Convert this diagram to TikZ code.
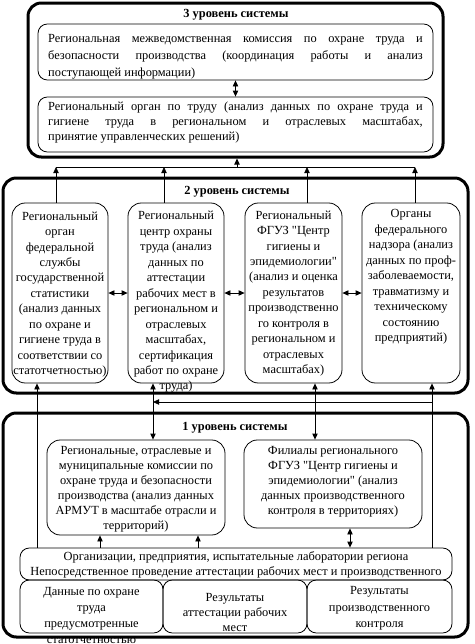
\documentclass[tikz,border=0pt]{standalone}
\usepackage{fontspec}
\setmainfont{Liberation Serif}[Ligatures=TeXOff]
\usetikzlibrary{arrows.meta}
\begin{document}
\begin{tikzpicture}[x=0.75pt,y=-0.75pt,
  outer/.style={draw, line width=2.25pt, rounded corners=10pt, inner sep=0pt},
  ibox/.style={draw, line width=0.6pt, rounded corners=8pt, inner sep=0pt},
  txt/.style={inner sep=0pt, align=center, font=\fontsize{9.3}{11.6}\selectfont},
  ttl/.style={inner sep=0pt, font=\bfseries\fontsize{9.3}{11}\selectfont},
  conn/.style={line width=0.6pt},
  tip/.style={conn, -{Triangle[length=4.5pt,width=4pt]}},
  dtip/.style={conn, {Triangle[length=4.5pt,width=4pt]}-{Triangle[length=4.5pt,width=4pt]}}]
\useasboundingbox (0,0) rectangle (475,644);
% ---------- level 3
\node[outer, minimum width=311.25pt, minimum height=115.5pt] (L3) at (235.5,80) {};
\node[ibox, rounded corners=7pt, minimum width=296.25pt, minimum height=42pt] (P1) at (235.5,52) {};
\node[ibox, rounded corners=7pt, minimum width=296.25pt, minimum height=41.25pt] (P2) at (235.5,124.5) {};
\node[ttl] (T3) at (236,15) {3 уровень системы};
\node[txt, text width=281pt, align=justify, font=\fontsize{9.3}{12.75}\selectfont] (P1t) at (235.5,57)
 {Региональная межведомственная комиссия по охране труда и\linebreak безопасности производства (координация работы и анализ\linebreak поступающей информации)};
\node[txt, text width=281pt, align=justify, font=\fontsize{9.3}{10.9}\selectfont] (P2t) at (235.5,122.5)
 {Региональный орган по труду (анализ данных по охране труда и\linebreak гигиене труда в региональном и отраслевых масштабах,\linebreak принятие управленческих решений)};
% ---------- level 2
\node[outer, minimum width=348.75pt, minimum height=161.25pt] (L2) at (235.5,285.5) {};
\node[ttl] (T2) at (237,192) {2 уровень системы};
\node[ibox, rounded corners=10pt, minimum width=72pt, minimum height=135pt] (A) at (60,293) {};
\node[ibox, rounded corners=10pt, minimum width=72pt, minimum height=135pt] (B) at (176,293) {};
\node[ibox, rounded corners=10pt, minimum width=72.75pt, minimum height=135pt] (C) at (293.5,293) {};
\node[ibox, rounded corners=10pt, minimum width=73.5pt, minimum height=135pt] (D) at (411,293) {};
\node[txt] (At) at (60,294.5) {Региональный\\ орган\\ федеральной\\ службы\\ государственной\\ статистики\\ (анализ данных\\ по охране и\\ гигиене труда в\\ соответствии со\\ статотчетностью)};
\node[txt] (Bt) at (176,302) {Региональный\\ центр охраны\\ труда (анализ\\ данных по\\ аттестации\\ рабочих мест в\\ региональном и\\ отраслевых\\ масштабах,\\ сертификация\\ работ по охране\\ труда)};
\node[txt] (Ct) at (293.5,293.5) {Региональный\\ ФГУЗ "Центр\\ гигиены и\\ эпидемиологии"\\ (анализ и оценка\\ результатов\\ производственно\\ го контроля в\\ региональном и\\ отраслевых\\ масштабах)};
\node[txt] (Dt) at (411,277) {Органы\\ федерального\\ надзора (анализ\\ данных по проф-\\ заболеваемости,\\ травматизму и\\ техническому\\ состоянию\\ предприятий)};
% ---------- level 1
\node[outer, minimum width=348.75pt, minimum height=168pt] (L1) at (235.5,525) {};
\node[ttl] (T1) at (235,428) {1 уровень системы};
\node[ibox, rounded corners=10pt, minimum width=133.5pt, minimum height=71.25pt] (E) at (136,487.5) {};
\node[ibox, rounded corners=10pt, minimum width=133.5pt, minimum height=66pt] (F) at (333,484) {};
\node[txt, font=\fontsize{9.3}{11.25}\selectfont] (Et) at (136,489.5) {Региональные, отраслевые и\\ муниципальные комиссии по\\ охране труда и безопасности\\ производства (анализ данных\\ АРМУТ в масштабе отрасли и\\ территорий)};
\node[txt, font=\fontsize{9.3}{11.25}\selectfont] (Ft) at (333,482) {Филиалы регионального\\ ФГУЗ "Центр гигиены и\\ эпидемиологии" (анализ\\ данных производственного\\ контроля в территориях)};
\node[ibox, rounded corners=7pt, minimum width=324pt, minimum height=24pt] (Org) at (236,564) {};
\node[txt, font=\fontsize{9.3}{11.25}\selectfont] (Orgt) at (236,564.5) {Организации, предприятия, испытательные лаборатории региона\\ Непосредственное проведение аттестации рабочих мест и производственного};
\node[ibox, rounded corners=7pt, minimum width=107.25pt, minimum height=39.75pt] (G) at (91.5,606.5) {};
\node[ibox, rounded corners=7pt, minimum width=108pt, minimum height=39.75pt] (H) at (235,606.5) {};
\node[ibox, rounded corners=7pt, minimum width=108.75pt, minimum height=39.75pt] (I) at (379.5,606.5) {};
\node[txt, font=\fontsize{9.3}{12}\selectfont] (Gt) at (91.5,615) {Данные по охране\\ труда\\ предусмотренные\\ статотчетностью};
\node[txt, font=\fontsize{9.3}{10.9}\selectfont] (Ht) at (235,612.5) {Результаты\\ аттестации рабочих\\ мест};
\node[txt, font=\fontsize{9.3}{12.4}\selectfont] (It) at (379.5,608.5) {Результаты\\ производственного\\ контроля};
% ---------- connectors
\draw[dtip] (P1.south) -- (P2.north);
\coordinate (jA) at (56,167);
\coordinate (jB) at (164,167);
\coordinate (jC) at (307,167);
\coordinate (jD) at (415,167);
\coordinate (jM) at (237,167);
\draw[tip] (A.north -| jA) -- (jA);
\draw[tip] (B.north -| jB) -- (jB);
\draw[tip] (C.north -| jC) -- (jC);
\draw[tip] (D.north -| jD) -- (jD);
\draw[conn] (jA) -- (jD);
\draw[tip] (jM) -- (jM |- L3.south);
\draw[dtip] (A.east) -- (B.west);
\draw[dtip] (B.east) -- (C.west);
\draw[dtip] (C.east) -- (D.west);
\coordinate (c37) at (37,400);
\coordinate (c153) at (153,402);
\coordinate (c315) at (315,400);
\coordinate (c432) at (432,402);
\coordinate (c100) at (100,540);
\coordinate (c198) at (198,540);
\coordinate (c350) at (350,540);
\draw[tip] (Org.north -| c37) -- (A.south -| c37);
\draw[dtip] (B.south -| c153) -- (E.north -| c153);
\draw[dtip] (C.south -| c315) -- (F.north -| c315);
\draw[tip] (Org.north -| c432) -- (D.south -| c432);
\draw[tip] (c432) -- (c153);
\draw[tip] (Org.north -| c100) -- (E.south -| c100);
\draw[tip] (Org.north -| c198) -- (E.south -| c198);
\draw[dtip] (F.south -| c350) -- (Org.north -| c350);
\end{tikzpicture}
\end{document}
